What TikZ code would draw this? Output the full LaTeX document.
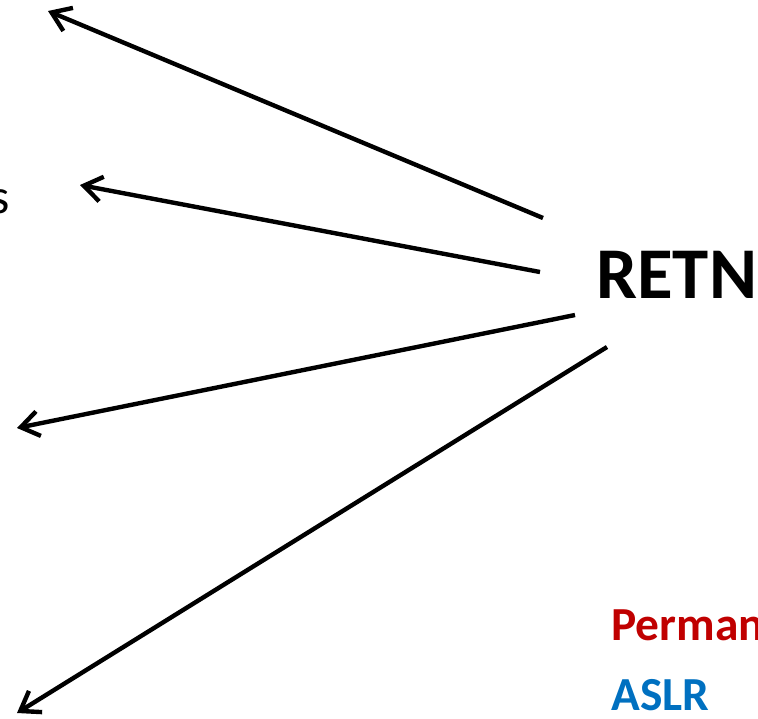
\documentclass[tikz,border=0pt]{standalone}
\usepackage{fontspec}
\setmainfont{Carlito}
\usetikzlibrary{arrows.meta, positioning}
\definecolor{permred}{RGB}{192,0,0}
\definecolor{aslrblue}{RGB}{0,112,192}

\begin{document}
\begin{tikzpicture}[x=0.02cm, y=-0.02cm,
		arrow/.style={-{Straight Barb[length=3.6mm, width=5mm]}, line width=2.5pt},
		bigtext/.style={font=\fontsize{41.5}{48}\selectfont\bfseries, anchor=base west, inner sep=0},
		labeltext/.style={font=\fontsize{27}{32}\selectfont\bfseries, anchor=base west, inner sep=0}
		]
		\useasboundingbox (0,0) rectangle (758,718);
		\clip (0,0) rectangle (758,718);
		
		% main label
		\node[bigtext] (retn) at (596,298) {RETN};
		
		% cut-off label on the left
		\node[font=\fontsize{28}{32}\selectfont, anchor=base east, inner sep=0] (sleft) at (10,213) {s};
		
		% coloured labels
		\node[labeltext, text=permred] (perm) at (611,640) {Perman};
		\node[labeltext, text=aslrblue] (aslr) at (611,710) {ASLR};
		
		% arrow ends
		\coordinate (a1) at (543,218);
		\coordinate (t1) at (48,11);
		\coordinate (a2) at (540,272);
		\coordinate (t2) at (80,185);
		\coordinate (a3) at (575,315);
		\coordinate (t3) at (17,428);
		\coordinate (a4) at (607,347);
		\coordinate (t4) at (17,713);
		
		\draw[arrow] (a1) -- (t1);
		\draw[arrow] (a2) -- (t2);
		\draw[arrow] (a3) -- (t3);
		\draw[arrow] (a4) -- (t4);
		
	\end{tikzpicture}
\end{document}
